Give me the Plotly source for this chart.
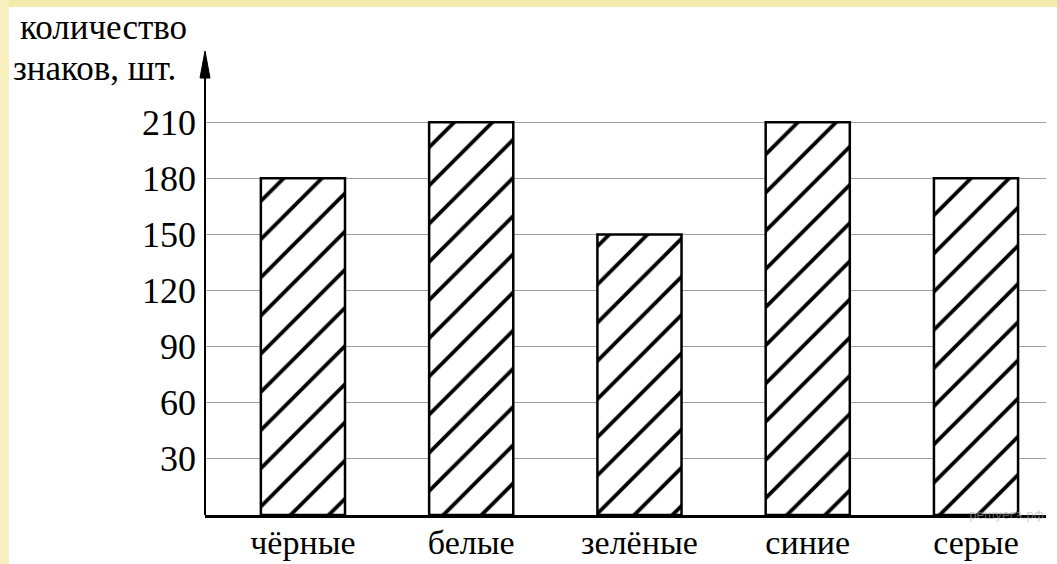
import plotly.graph_objects as go

categories = ["чёрные", "белые", "зелёные", "синие", "серые"]
values = [180, 210, 150, 210, 180]
y_ticks = [30, 60, 90, 120, 150, 180, 210]
y_title_lines = ["количество", "знаков, шт."]
watermark = "решуегэ.рф"

W, H = 1057, 564
L, R, T, B = 205, 11, 66, 49
FONT = "Liberation Serif, Times New Roman, serif"

fig = go.Figure()
fig.add_trace(go.Bar(
    x=list(range(len(categories))), y=values, width=0.5,
    marker=dict(color="white", line=dict(color="black", width=2.5),
                pattern=dict(shape="/", fgcolor="black", bgcolor="white", fgopacity=1,
                             size=27, solidity=0.14)),
    showlegend=False,
))

pw = W - L - R
ph = H - T - B
def px_x(p):
    return (p - L) / pw
def px_y(p):
    return (H - B - p) / ph

shapes = [
    # yellow frame
    dict(type="rect", xref="paper", yref="paper", x0=px_x(0), x1=px_x(W), y0=px_y(0), y1=px_y(7),
         fillcolor="#F4EAAC", line_width=0, layer="below"),
    dict(type="rect", xref="paper", yref="paper", x0=px_x(0), x1=px_x(9), y0=px_y(H), y1=px_y(0),
         fillcolor="#F9F0C0", line_width=0, layer="below"),
    # y axis line
    dict(type="line", xref="paper", yref="paper", x0=0, x1=0, y0=0, y1=px_y(76),
         line=dict(color="black", width=2)),
    # arrow head
    dict(type="path", xref="paper", yref="paper",
         path=f"M {px_x(200)} {px_y(78)} L {px_x(205)} {px_y(51)} L {px_x(210)} {px_y(78)} Z",
         fillcolor="black", line=dict(color="black", width=1)),
]

annotations = [
    dict(text=y_title_lines[0], xref="paper", yref="paper", x=px_x(18), y=px_y(28),
         xanchor="left", yanchor="middle", showarrow=False,
         font=dict(family=FONT, size=35, color="black")),
    dict(text=y_title_lines[1], xref="paper", yref="paper", x=px_x(11), y=px_y(68),
         xanchor="left", yanchor="middle", showarrow=False,
         font=dict(family=FONT, size=35, color="black")),
    dict(text=watermark, xref="paper", yref="paper", x=px_x(967), y=px_y(515),
         xanchor="left", yanchor="middle", showarrow=False,
         font=dict(family="DejaVu Sans, sans-serif", size=12, color="rgba(170,170,170,0.6)")),
]

fig.update_layout(
    width=W, height=H,
    margin=dict(l=L, r=R, t=T, b=B, autoexpand=False),
    paper_bgcolor="white", plot_bgcolor="white",
    bargap=0.5,
    shapes=shapes, annotations=annotations,
    xaxis=dict(tickmode="array", tickvals=list(range(len(categories))), ticktext=categories,
               range=[-0.582, 4.416], showgrid=False, zeroline=False, automargin=False,
               showline=True, linecolor="black", linewidth=3,
               ticks="", ticklabelstandoff=-5,
               tickfont=dict(family=FONT, size=34, color="black")),
    yaxis=dict(range=[0, 240], tickmode="array", tickvals=y_ticks,
               ticktext=[str(v) for v in y_ticks], automargin=False,
               showgrid=True, gridcolor="#a0a0a0", gridwidth=1.2, zeroline=False,
               showline=False, ticks="", ticklabelstandoff=8,
               tickfont=dict(family=FONT, size=36, color="black")),
)

fig.write_html("out.html", config={"displayModeBar": False},
               post_script="document.body.style.margin='0';document.body.style.overflow='hidden';")
